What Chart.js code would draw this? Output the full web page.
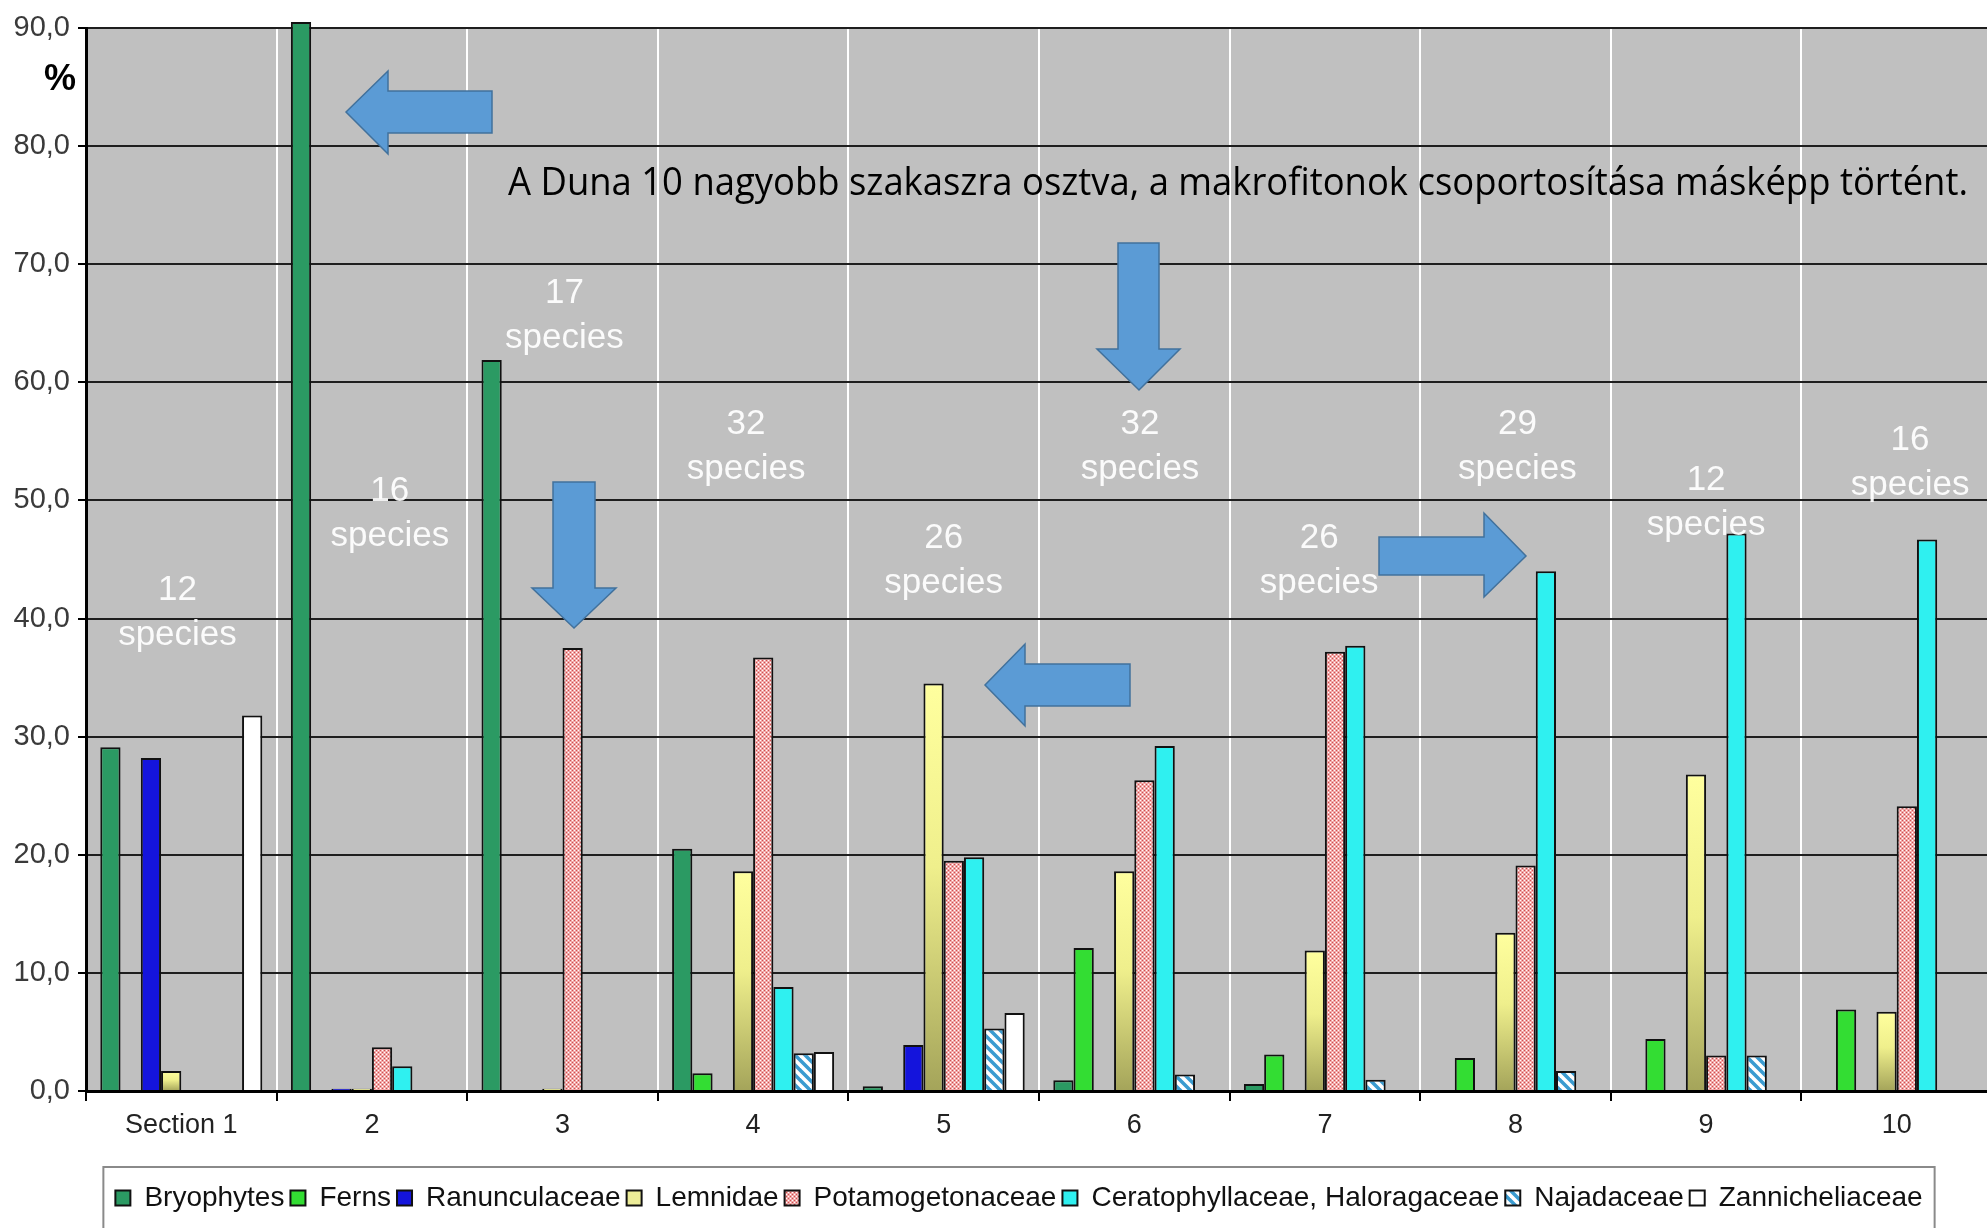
<!DOCTYPE html>
<html>
<head>
<meta charset="utf-8">
<title>Makrofiton csoportok a Duna szakaszain</title>
<script src="https://cdn.jsdelivr.net/npm/chart.js@4.4.1/dist/chart.umd.min.js"></script>
<style>
  html, body { margin: 0; padding: 0; background: #ffffff; overflow: hidden; }
  #wrap { width: 2038px; height: 1228px; position: relative; }
  canvas { display: block; }
</style>
</head>
<body>
<div id="wrap"><canvas id="chart" width="2038" height="1228"></canvas></div>
<script>
// ---- data -------------------------------------------------------------
const sections = ['Section 1', '2', '3', '4', '5', '6', '7', '8', '9', '10'];
const groupNames = ['Bryophytes', 'Ferns', 'Ranunculaceae', 'Lemnidae', 'Potamogetonaceae',
                    'Ceratophyllaceae, Haloragaceae', 'Najadaceae', 'Zannicheliaceae'];

const bryophytes      = [29.1, 90.5, 61.9, 20.5, 0.4, 0.9, 0.6, 0, 0, 0];
const ferns           = [0, 0, 0, 1.5, 0, 12.1, 3.1, 2.8, 4.4, 6.9];
const ranunculaceae   = [28.2, 0.2, 0, 0, 3.9, 0, 0, 0, 0, 0];
const lemnidae        = [1.7, 0.2, 0.2, 18.6, 34.5, 18.6, 11.9, 13.4, 26.8, 6.7];
const potamogetonaceae= [0, 3.7, 37.5, 36.7, 19.5, 26.3, 37.2, 19.1, 3.0, 24.1];
const ceratophyllaceae= [0, 2.1, 0, 8.8, 19.8, 29.2, 37.7, 44.0, 47.2, 46.7];
const najadaceae      = [0, 0, 0, 3.2, 5.3, 1.4, 0.95, 1.7, 3.0, 0];
const zannicheliaceae = [31.8, 0, 0, 3.3, 6.6, 0, 0, 0, 0, 0];

const speciesCounts = [12, 16, 17, 32, 26, 32, 26, 29, 12, 16];
const yTicks = [0, 10, 20, 30, 40, 50, 60, 70, 80, 90];

// where each "N species" note sits: category offset and value level
const noteShift = [-0.02, 0.094, 0.01, -0.037, 0, 0.03, -0.03, 0.01, 0, 0.07];
const noteLevel = [40.5, 48.9, 65.7, 54.6, 44.9, 54.6, 44.9, 54.6, 49.8, 53.2];

const noteText = 'A Duna 10 nagyobb szakaszra osztva, a makrofitonok csoportosítása másképp történt.';

// ---- fills ------------------------------------------------------------
function tile(w, h, paint) {
  const c = document.createElement('canvas');
  c.width = w; c.height = h;
  const g = c.getContext('2d');
  paint(g, w, h);
  return g.createPattern(c, 'repeat');
}

const dottedPink = tile(4, 4, (g) => {
  g.fillStyle = '#f2a8a8'; g.fillRect(0, 0, 4, 4);
  g.fillStyle = '#ffffff'; g.fillRect(0, 0, 1, 1); g.fillRect(2, 2, 1, 1);
  g.fillStyle = '#cc5050'; g.fillRect(2, 0, 1, 1); g.fillRect(0, 2, 1, 1);
});

const blueStripes = tile(10, 10, (g) => {
  g.fillStyle = '#ffffff'; g.fillRect(0, 0, 10, 10);
  g.strokeStyle = '#3a9bd0'; g.lineWidth = 3.5;
  for (const k of [-10, 0, 10]) {
    g.beginPath(); g.moveTo(k - 2, -2); g.lineTo(k + 12, 12); g.stroke();
  }
});

const lemnaSwatch = '#ecec98';

function lemnaFill(ctx) {
  if (ctx.type !== 'data' || typeof ctx.raw !== 'number') return lemnaSwatch;
  const chart = ctx.chart, ys = chart.scales.y;
  if (!ys || !chart.chartArea) return lemnaSwatch;
  const top = ys.getPixelForValue(ctx.raw), base = ys.getPixelForValue(0);
  if (!(base - top > 2)) return '#b8b870';
  const g = chart.ctx.createLinearGradient(0, top, 0, base);
  g.addColorStop(0, '#ffff9e');
  g.addColorStop(0.45, '#efef8c');
  g.addColorStop(1, '#a4a45a');
  return g;
}

const seriesData = [bryophytes, ferns, ranunculaceae, lemnidae, potamogetonaceae,
                    ceratophyllaceae, najadaceae, zannicheliaceae];
const seriesFill = ['#2b9a63', '#33dd33', '#1414dc', lemnaFill, dottedPink,
                    '#2ff0f0', blueStripes, '#ffffff'];

const datasets = groupNames.map((name, i) => ({
  label: name,
  data: seriesData[i],
  backgroundColor: seriesFill[i],
  borderColor: '#111111',
  borderWidth: 2,
  categoryPercentage: 0.85,
  barPercentage: 1.0,
  clip: false
}));

// ---- plugins ----------------------------------------------------------
const plotBackground = {
  id: 'plotBackground',
  beforeDraw(chart) {
    const { ctx, chartArea: a } = chart;
    ctx.save();
    ctx.fillStyle = '#c0c0c0';
    ctx.fillRect(a.left, a.top, a.right - a.left, a.bottom - a.top);
    ctx.restore();
  }
};

// centre the legend row under the full plot width (plot runs past the right edge)
const legendShift = {
  id: 'legendShift',
  afterLayout(chart) {
    const lg = chart.legend;
    if (lg) { lg.left += 23; lg.right += 23; }
  }
};

const speciesNotes = {
  id: 'speciesNotes',
  afterDatasetsDraw(chart) {
    const { ctx, scales: { x, y } } = chart;
    ctx.save();
    ctx.font = '35px "Liberation Sans", Arial, sans-serif';
    ctx.fillStyle = 'rgba(255,255,255,0.93)';
    ctx.textAlign = 'center';
    ctx.textBaseline = 'middle';
    speciesCounts.forEach((n, i) => {
      const px = x.getPixelForValue(i + noteShift[i]);
      const py = y.getPixelForValue(noteLevel[i]);
      ctx.fillText(String(n), px, py - 22);
      ctx.fillText('species', px, py + 23);
    });
    ctx.restore();
  }
};

function blockArrow(ctx, pts) {
  ctx.beginPath();
  ctx.moveTo(pts[0][0], pts[0][1]);
  for (let i = 1; i < pts.length; i++) ctx.lineTo(pts[i][0], pts[i][1]);
  ctx.closePath();
  ctx.fillStyle = '#5b9bd5';
  ctx.fill();
  ctx.lineWidth = 1.5;
  ctx.strokeStyle = '#41719c';
  ctx.stroke();
}

const overlay = {
  id: 'overlay',
  afterDraw(chart) {
    const { ctx } = chart;
    ctx.save();

    // left-pointing arrow near the tallest bar
    blockArrow(ctx, [[346,112],[388,71],[388,91],[492,91],[492,133],[388,133],[388,154]]);
    // downward arrow, section 3
    blockArrow(ctx, [[553,482],[595,482],[595,588],[616,588],[574,628],[532,588],[553,588]]);
    // downward arrow, section 6
    blockArrow(ctx, [[1118,243],[1159,243],[1159,349],[1180,349],[1139,390],[1097,349],[1118,349]]);
    // left-pointing arrow, section 5
    blockArrow(ctx, [[985,685],[1025,644],[1025,664],[1130,664],[1130,706],[1025,706],[1025,726]]);
    // right-pointing arrow, section 8
    blockArrow(ctx, [[1379,537],[1484,537],[1484,513],[1526,556],[1484,597],[1484,575],[1379,575]]);

    // note line
    ctx.font = '38px "Open Sans", Lato, sans-serif';
    ctx.fillStyle = '#000000';
    ctx.textBaseline = 'alphabetic';
    ctx.textAlign = 'left';
    const w = ctx.measureText(noteText).width;
    const sx = 1460 / w;
    ctx.translate(508, 195);
    ctx.scale(sx, 1);
    ctx.fillText(noteText, 0, 0);
    ctx.setTransform(1, 0, 0, 1, 0, 0);

    // unit label
    ctx.font = 'bold 36px "Liberation Sans", Arial, sans-serif';
    ctx.textAlign = 'center';
    ctx.textBaseline = 'middle';
    ctx.fillText('%', 60, 80);

    // frame round the legend
    const lg = chart.legend;
    const hb = lg.legendHitBoxes;
    if (hb && hb.length) {
      const left = hb[0].left - 12;
      const last = hb[hb.length - 1];
      const right = last.left + last.width + 12;
      const top = lg.top - 11;
      ctx.lineWidth = 2;
      ctx.strokeStyle = '#8a8a8a';
      ctx.strokeRect(left, top, right - left, 90);
    }
    ctx.restore();
  }
};

// ---- chart ------------------------------------------------------------
new Chart(document.getElementById('chart'), {
  type: 'bar',
  data: { labels: sections, datasets },
  plugins: [plotBackground, legendShift, speciesNotes, overlay],
  options: {
    responsive: false,
    animation: false,
    layout: { padding: { top: 28, right: 46, bottom: 6, left: 0 } },
    plugins: {
      legend: {
        position: 'bottom',
        labels: {
          boxWidth: 15,
          boxHeight: 15,
          padding: 6,
          color: '#111111',
          font: { family: '"Liberation Sans", Arial, sans-serif', size: 28 },
          generateLabels(chart) {
            const items = Chart.defaults.plugins.legend.labels.generateLabels(chart);
            items.forEach((it) => {
              if (it.text === 'Lemnidae') it.fillStyle = lemnaSwatch;
            });
            return items;
          }
        }
      },
      tooltip: { enabled: false }
    },
    scales: {
      x: {
        grid: { color: '#ffffff', lineWidth: 2, tickColor: '#000000', tickLength: 10, offset: true },
        border: { color: '#000000', width: 3 },
        ticks: {
          color: '#222222',
          padding: 8,
          maxRotation: 0,
          font: { family: '"Liberation Sans", Arial, sans-serif', size: 27 }
        },
        afterFit(s) { s.height = 87; }
      },
      y: {
        min: 0,
        max: 90,
        afterBuildTicks(s) { s.ticks = yTicks.map(v => ({ value: v })); },
        ticks: {
          color: '#3a3a3a',
          padding: 8,
          font: { family: '"Liberation Sans", Arial, sans-serif', size: 29 },
          callback: (v) => Number(v).toFixed(1).replace('.', ',')
        },
        grid: { color: '#1e1e1e', lineWidth: 2, tickColor: '#000000', tickLength: 8 },
        border: { color: '#000000', width: 3 },
        afterFit(s) { s.width = 86; }
      }
    }
  }
});
</script>
</body>
</html>
